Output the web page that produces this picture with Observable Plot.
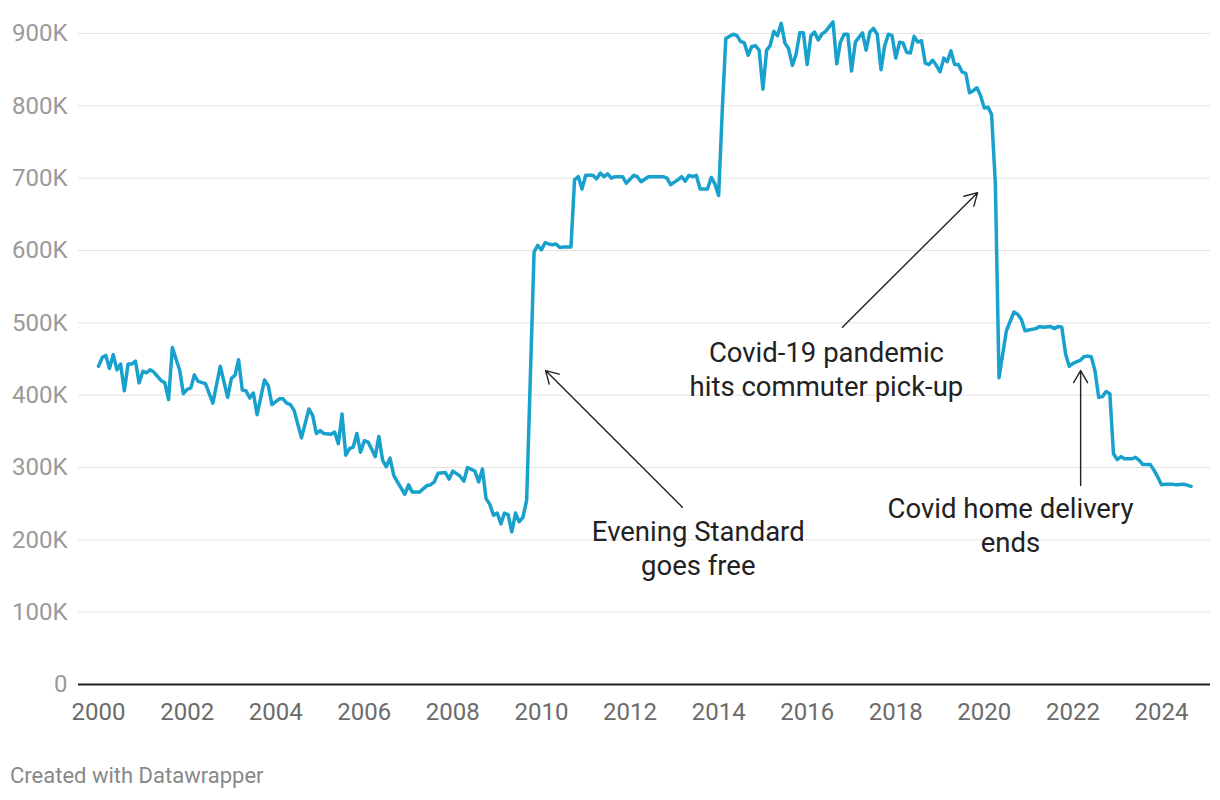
<!DOCTYPE html>
<html>
<head>
<meta charset="utf-8">
<script src="https://cdn.jsdelivr.net/npm/d3@7"></script>
<script src="https://cdn.jsdelivr.net/npm/@observablehq/plot@0.6"></script>
<style>
  body { margin: 0; background: #fff; font-family: Roboto, sans-serif; }
  #wrap { position: relative; width: 1220px; height: 800px; }
  #footer { position: absolute; left: 10px; top: 763px; font-size: 22px; color: #888; font-family: Roboto, sans-serif; }
</style>
</head>
<body>
<div id="wrap">
  <div id="chart"></div>
  <div id="footer">Created with Datawrapper</div>
</div>
<script>
// Monthly circulation (thousands)
const months = [
"2000-01","2000-02","2000-03","2000-04","2000-05","2000-06","2000-07","2000-08","2000-09","2000-10","2000-11","2000-12",
"2001-01","2001-02","2001-03","2001-04","2001-06","2001-07","2001-08","2001-09","2001-10","2001-11","2001-12",
"2002-01","2002-02","2002-03","2002-04","2002-06","2002-08","2002-10","2002-12",
"2003-01","2003-02","2003-03","2003-04","2003-05","2003-06","2003-07","2003-08","2003-10","2003-11","2003-12",
"2004-02","2004-03","2004-04","2004-05","2004-06","2004-08","2004-10","2004-11","2004-12",
"2005-01","2005-02","2005-04","2005-05","2005-06","2005-07","2005-08","2005-09","2005-10","2005-11","2005-12",
"2006-01","2006-02","2006-03","2006-04","2006-05","2006-06","2006-07","2006-08","2006-09","2006-10","2006-12",
"2007-01","2007-02","2007-04","2007-06","2007-07","2007-08","2007-09","2007-11","2007-12",
"2008-01","2008-03","2008-04","2008-05","2008-07","2008-08","2008-09","2008-10","2008-11","2008-12",
"2009-01","2009-02","2009-03","2009-04","2009-05","2009-06","2009-07","2009-08","2009-09","2009-11","2009-12",
"2010-01","2010-02","2010-03","2010-04","2010-05","2010-06","2010-07","2010-09","2010-10","2010-11","2010-12",
"2011-01","2011-03","2011-04","2011-05","2011-06","2011-07","2011-08","2011-09","2011-11","2011-12",
"2012-02","2012-03","2012-04","2012-06","2012-07","2012-10","2012-11","2012-12",
"2013-02","2013-03","2013-04","2013-05","2013-06","2013-07","2013-08","2013-10","2013-11","2013-12",
"2014-01","2014-02","2014-03","2014-05","2014-06","2014-07","2014-08","2014-09","2014-10","2014-11","2014-12",
"2015-01","2015-02","2015-03","2015-04","2015-05","2015-06","2015-07","2015-08","2015-09","2015-10","2015-11","2015-12",
"2016-01","2016-02","2016-03","2016-04","2016-05","2016-06","2016-08","2016-09","2016-10","2016-11","2016-12",
"2017-01","2017-02","2017-04","2017-05","2017-06","2017-07","2017-08","2017-09","2017-10","2017-11","2017-12",
"2018-01","2018-02","2018-03","2018-04","2018-05","2018-06","2018-07","2018-08","2018-09","2018-10","2018-11","2018-12",
"2019-01","2019-02","2019-03","2019-04","2019-05","2019-06","2019-07","2019-08","2019-09","2019-10","2019-11","2019-12",
"2020-01","2020-02","2020-03","2020-04","2020-05","2020-07","2020-09","2020-10","2020-11","2020-12",
"2021-01","2021-03","2021-04","2021-05","2021-07","2021-08","2021-09","2021-10","2021-11","2021-12",
"2022-01","2022-03","2022-04","2022-05","2022-06","2022-07","2022-08","2022-09","2022-10","2022-11","2022-12",
"2023-01","2023-02","2023-03","2023-05","2023-06","2023-07","2023-08","2023-10","2023-11","2023-12",
"2024-01","2024-02","2024-04","2024-05","2024-07","2024-09"
];
const circulation = [
440,452,455,437,456,435,443,406,443,443,447,417,
433,431,435,432,420,417,394,466,450,434,402,
408,410,428,419,416,389,440,397,
423,428,449,407,406,396,403,373,421,413,387,
395,395,389,387,379,341,381,372,347,
351,347,346,349,333,374,317,326,328,347,321,
337,335,326,315,343,310,301,313,289,280,263,
276,266,266,275,276,280,292,293,284,
295,288,281,300,295,280,298,257,249,234,
237,222,237,235,211,237,225,231,255,598,607,
601,611,609,608,609,604,605,605,698,702,685,
704,704,699,707,702,706,700,702,702,693,
704,702,695,702,702,702,700,691,
698,702,696,704,702,704,685,685,701,692,
676,798,893,899,897,889,887,870,882,883,877,
823,877,883,903,897,914,887,879,856,871,901,901,
857,897,902,891,899,903,916,858,888,899,899,
848,888,901,877,902,907,899,850,883,899,897,
866,888,887,874,873,896,888,890,859,857,863,856,
847,866,861,876,857,857,847,845,818,821,825,814,
797,798,788,692,424,489,515,512,505,489,
490,492,495,494,495,492,495,494,457,440,
444,448,453,454,453,434,397,398,405,402,319,
311,315,312,312,314,310,304,304,296,287,
276,277,277,276,277,274
];

const yearTicks = [2000, 2002, 2004, 2006, 2008, 2010, 2012, 2014, 2016, 2018, 2020, 2022, 2024];
const valueTicks = [0, 100, 200, 300, 400, 500, 600, 700, 800, 900];

// Annotations
const noteTexts = ["Evening Standard\ngoes free", "Covid-19 pandemic\nhits commuter pick-up", "Covid home delivery\nends"];
const noteDates = ["2013-07-17", "2016-06-08", "2020-08-04"];
const noteValues = [190, 438, 222];
const arrowFromDates = ["2013-03-08", "2016-10-18", "2022-03-05"];
const arrowFromValues = [245, 494, 275];
const arrowToDates = ["2010-02-04", "2019-11-06", "2022-03-05"];
const arrowToValues = [434, 680, 434];

const parseMonth = d3.utcParse("%Y-%m");
const parseDay = d3.utcParse("%Y-%m-%d");
const series = months.map((m, i) => ({date: parseMonth(m), value: circulation[i]}));
const notes = noteTexts.map((t, i) => ({text: t, date: parseDay(noteDates[i]), value: noteValues[i]}));
const arrows = arrowFromDates.map((d, i) => ({
  x1: parseDay(d), y1: arrowFromValues[i], x2: parseDay(arrowToDates[i]), y2: arrowToValues[i]
}));
const fmtY = v => v === 0 ? "0" : v + "K";

const chart = Plot.plot({
  width: 1220,
  height: 740,
  marginTop: 33,
  marginBottom: 56,
  marginLeft: 78,
  marginRight: 10,
  style: {fontFamily: "Roboto, sans-serif", fontSize: "24px", background: "#fff", overflow: "visible"},
  x: {type: "utc", domain: [parseMonth("2000-01"), parseMonth("2024-01")], range: [98, 1161]},
  y: {domain: [0, 900]},
  marks: [
    Plot.gridY(valueTicks.filter(v => v > 0), {stroke: "#e3e3e3", strokeOpacity: 1, strokeWidth: 1}),
    Plot.ruleY([0], {stroke: "#222", strokeWidth: 2}),
    Plot.axisY(valueTicks, {tickSize: 0, tickPadding: 11, color: "#9a9a9a", tickFormat: fmtY, label: null}),
    Plot.axisX(yearTicks.map(y => new Date(Date.UTC(y, 0, 1))), {tickSize: 0, tickPadding: 18, color: "#6b6b6b", tickFormat: d3.utcFormat("%Y"), label: null}),
    Plot.line(series, {x: "date", y: "value", stroke: "#18a1cd", strokeWidth: 3.5, strokeLinejoin: "round", strokeLinecap: "round"}),
    Plot.arrow(arrows, {x1: "x1", y1: "y1", x2: "x2", y2: "y2", stroke: "#222", strokeWidth: 1.4, headLength: 15, headAngle: 60}),
    Plot.text(notes, {x: "date", y: "value", text: "text", fontSize: 27.5, lineHeight: 1.24, fill: "#222", textAnchor: "middle", lineAnchor: "middle"})
  ]
});
document.getElementById("chart").appendChild(chart);
</script>
</body>
</html>
